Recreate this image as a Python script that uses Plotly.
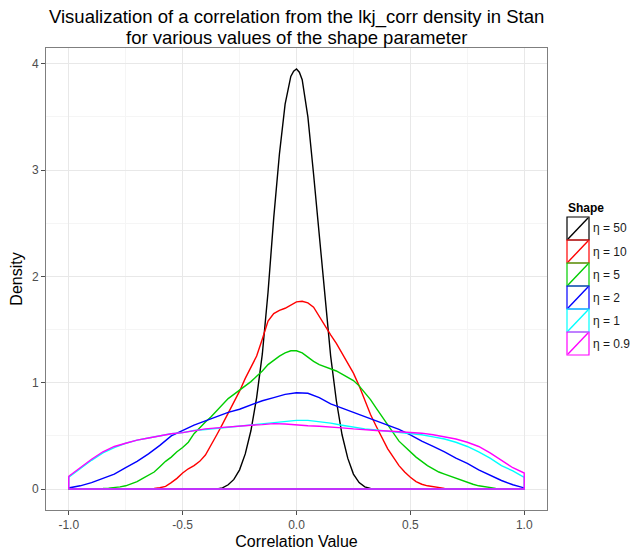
import plotly.graph_objects as go

# ---------------- data ----------------
labels = ["η = 50", "η = 10", "η = 5", "η = 2", "η = 1", "η = 0.9"]
colors = ["#000000", "#FF0000", "#00CD00", "#0000FF", "#00FFFF", "#FF00FF"]

x_eta50 = [-1.0, -0.4, -0.35, -0.325, -0.3, -0.275, -0.25, -0.225, -0.2, -0.175, -0.15,
           -0.125, -0.1, -0.075, -0.05, -0.025, -0.0125, 0.0, 0.0125, 0.025, 0.05, 0.075,
           0.1, 0.125, 0.15, 0.175, 0.2, 0.225, 0.25, 0.275, 0.3, 0.325, 0.35, 1.0]
y_eta50 = [0, 0, 0.0, 0.01, 0.04, 0.09, 0.18, 0.33, 0.55, 0.86, 1.27,
           1.85, 2.55, 3.15, 3.62, 3.88, 3.93, 3.95, 3.92, 3.85, 3.50, 2.96,
           2.37, 1.77, 1.25, 0.83, 0.51, 0.29, 0.14, 0.06, 0.02, 0.005, 0, 0]

x_eta10 = [-1.0, -0.65, -0.625, -0.6, -0.575, -0.55, -0.525, -0.5, -0.475, -0.45, -0.425,
           -0.4, -0.375, -0.35, -0.325, -0.3, -0.275, -0.25, -0.225, -0.2, -0.175, -0.15,
           -0.125, -0.1, -0.075, -0.05, -0.025, 0.0, 0.025, 0.05, 0.075, 0.1, 0.125, 0.15,
           0.175, 0.2, 0.225, 0.25, 0.275, 0.3, 0.325, 0.35, 0.375, 0.4, 0.425, 0.45, 0.475,
           0.5, 0.525, 0.55, 0.575, 0.6, 0.625, 0.65, 0.7, 1.0]
y_eta10 = [0, 0, 0.005, 0.012, 0.025, 0.06, 0.10, 0.15, 0.19, 0.22, 0.26,
           0.32, 0.41, 0.51, 0.61, 0.71, 0.81, 0.92, 1.04, 1.14, 1.25, 1.41,
           1.58, 1.65, 1.68, 1.70, 1.73, 1.76, 1.765, 1.75, 1.71, 1.62, 1.53, 1.45,
           1.37, 1.28, 1.19, 1.09, 0.97, 0.83, 0.70, 0.59, 0.48, 0.38, 0.30, 0.22, 0.16,
           0.11, 0.07, 0.045, 0.03, 0.02, 0.012, 0.006, 0, 0]

x_eta5 = [-1.0, -0.9, -0.875, -0.85, -0.825, -0.8, -0.775, -0.75, -0.725, -0.7, -0.675,
          -0.65, -0.625, -0.6, -0.575, -0.55, -0.525, -0.5, -0.475, -0.45, -0.425, -0.4,
          -0.375, -0.35, -0.325, -0.3, -0.275, -0.25, -0.225, -0.2, -0.175, -0.15, -0.125,
          -0.1, -0.075, -0.05, -0.025, 0.0, 0.025, 0.05, 0.075, 0.1, 0.125, 0.15, 0.175,
          0.2, 0.225, 0.25, 0.275, 0.3, 0.325, 0.35, 0.375, 0.4, 0.425, 0.45, 0.475, 0.5,
          0.525, 0.55, 0.575, 0.6, 0.625, 0.65, 0.675, 0.7, 0.725, 0.75, 0.775, 0.8, 0.825,
          0.85, 0.875, 0.9, 0.925, 1.0]
y_eta5 = [0, 0, 0.003, 0.005, 0.008, 0.012, 0.02, 0.03, 0.05, 0.07, 0.10,
          0.13, 0.16, 0.21, 0.26, 0.30, 0.35, 0.39, 0.44, 0.52, 0.58, 0.63,
          0.68, 0.74, 0.80, 0.85, 0.89, 0.93, 0.97, 1.01, 1.06, 1.11, 1.17,
          1.21, 1.25, 1.28, 1.30, 1.30, 1.28, 1.24, 1.20, 1.17, 1.15, 1.13, 1.11,
          1.08, 1.05, 1.02, 0.97, 0.91, 0.84, 0.76, 0.68, 0.60, 0.52, 0.45, 0.40, 0.35,
          0.30, 0.26, 0.22, 0.19, 0.16, 0.14, 0.12, 0.10, 0.08, 0.065, 0.045, 0.03, 0.02,
          0.012, 0.006, 0.003, 0, 0]

x_grid = [-1.0, -0.95, -0.9, -0.85, -0.8, -0.75, -0.7, -0.65, -0.6, -0.55, -0.5, -0.45,
          -0.4, -0.35, -0.3, -0.25, -0.2, -0.15, -0.1, -0.05, 0.0, 0.05, 0.1, 0.15, 0.2,
          0.25, 0.3, 0.35, 0.4, 0.45, 0.5, 0.55, 0.6, 0.65, 0.7, 0.75, 0.8, 0.85, 0.9,
          0.95, 1.0]
y_eta2 = [0.01, 0.03, 0.06, 0.10, 0.14, 0.20, 0.26, 0.33, 0.41, 0.50, 0.55, 0.60,
          0.64, 0.68, 0.72, 0.75, 0.79, 0.83, 0.86, 0.89, 0.905, 0.90, 0.86, 0.80, 0.76,
          0.72, 0.68, 0.64, 0.60, 0.56, 0.51, 0.45, 0.40, 0.35, 0.29, 0.24, 0.18, 0.13, 0.08,
          0.04, 0.01]
y_eta1 = [0.11, 0.19, 0.27, 0.34, 0.39, 0.43, 0.46, 0.48, 0.50, 0.52, 0.53, 0.55,
          0.56, 0.57, 0.58, 0.59, 0.60, 0.61, 0.62, 0.635, 0.645, 0.645, 0.635, 0.62, 0.60,
          0.58, 0.565, 0.555, 0.545, 0.535, 0.525, 0.51, 0.49, 0.47, 0.44, 0.40, 0.35, 0.29,
          0.22, 0.17, 0.11]
y_eta09 = [0.12, 0.20, 0.28, 0.35, 0.40, 0.43, 0.46, 0.48, 0.50, 0.52, 0.53, 0.55,
           0.565, 0.575, 0.585, 0.595, 0.60, 0.605, 0.615, 0.612, 0.60, 0.595, 0.59, 0.585,
           0.575, 0.565, 0.555, 0.55, 0.545, 0.54, 0.535, 0.525, 0.51, 0.49, 0.47, 0.44, 0.40,
           0.34, 0.27, 0.20, 0.15]

series_x = [x_eta50, x_eta10, x_eta5, x_grid, x_grid, x_grid]
series_y = [y_eta50, y_eta10, y_eta5, y_eta2, y_eta1, y_eta09]

x_tickvals = [-1.0, -0.5, 0.0, 0.5, 1.0]
x_ticktext = ["-1.0", "-0.5", "0.0", "0.5", "1.0"]
y_tickvals = [0, 1, 2, 3, 4]
y_ticktext = ["0", "1", "2", "3", "4"]

# ---------------- figure ----------------
FONT = "Liberation Sans, Arial, Helvetica, sans-serif"
W, H = 630, 552
ML, MR, MT, MB = 46, 83, 48, 42
PW, PH = W - ML - MR, H - MT - MB


def px_to_paper_x(px):
    return (px - ML) / PW


def px_to_paper_y(py):
    return (H - MB - py) / PH


fig = go.Figure()
for xs, ys, col, lab in zip(series_x, series_y, colors, labels):
    assert len(xs) == len(ys)
    # closed outline like a density polygon: baseline -> curve -> baseline
    px_ = [xs[0]] + list(xs) + [xs[-1], xs[0]]
    py_ = [0] + list(ys) + [0, 0]
    fig.add_trace(go.Scatter(x=px_, y=py_, mode="lines", name=lab,
                             line=dict(color=col, width=1.4),
                             showlegend=False, hoverinfo="skip"))

axis_common = dict(
    showline=True, mirror=True, linecolor="#7F7F7F", linewidth=1,
    ticks="outside", ticklen=4, tickcolor="#4D4D4D", tickwidth=1,
    showgrid=True, gridcolor="#E8E8E8", gridwidth=1, zeroline=False,
    automargin=False,
    tickfont=dict(family=FONT, size=12, color="#4D4D4D"),
)

fig.update_xaxes(
    range=[-1.1, 1.1], tickmode="array", tickvals=x_tickvals, ticktext=x_ticktext,
    title=dict(text="Correlation Value", font=dict(family=FONT, size=16, color="#000000"),
               standoff=4),
    minor=dict(tickmode="array", tickvals=[-0.75, -0.25, 0.25, 0.75],
               showgrid=True, gridcolor="#F5F5F5", ticks=""),
    **axis_common)
fig.update_yaxes(
    range=[-0.1975, 4.1475], tickmode="array", tickvals=y_tickvals, ticktext=y_ticktext,
    title=dict(text="Density", font=dict(family=FONT, size=16, color="#000000"),
               standoff=5),
    minor=dict(tickmode="array", tickvals=[0.5, 1.5, 2.5, 3.5],
               showgrid=True, gridcolor="#F5F5F5", ticks=""),
    **axis_common)

annotations = [
    dict(text="Visualization of a correlation from the lkj_corr density in Stan",
         x=0.5, y=px_to_paper_y(17), xref="paper", yref="paper",
         xanchor="center", yanchor="middle", showarrow=False,
         font=dict(family=FONT, size=18.5, color="#000000")),
    dict(text="for various values of the shape parameter",
         x=0.5, y=px_to_paper_y(37), xref="paper", yref="paper",
         xanchor="center", yanchor="middle", showarrow=False,
         font=dict(family=FONT, size=18.5, color="#000000")),
    dict(text="<b>Shape</b>", x=px_to_paper_x(566), y=px_to_paper_y(208),
         xref="paper", yref="paper", xanchor="left", yanchor="middle", showarrow=False,
         font=dict(family=FONT, size=12, color="#000000")),
]

shapes = []
key_left, key_right = 567, 589
key_top0, key_h = 217, 23
for i, (col, lab) in enumerate(zip(colors, labels)):
    top = key_top0 + i * key_h
    bot = top + key_h
    shapes.append(dict(type="rect", xref="paper", yref="paper",
                       x0=px_to_paper_x(key_left), x1=px_to_paper_x(key_right),
                       y0=px_to_paper_y(bot), y1=px_to_paper_y(top),
                       line=dict(color=col, width=1.2), fillcolor="rgba(255,255,255,0)",
                       layer="above"))
    shapes.append(dict(type="line", xref="paper", yref="paper",
                       x0=px_to_paper_x(key_left + 1), x1=px_to_paper_x(key_right - 1),
                       y0=px_to_paper_y(bot - 1), y1=px_to_paper_y(top + 1),
                       line=dict(color=col, width=1.4), layer="above"))
    annotations.append(dict(text=lab, x=px_to_paper_x(591), y=px_to_paper_y(top + key_h / 2),
                            xref="paper", yref="paper", xanchor="left", yanchor="middle",
                            showarrow=False,
                            font=dict(family=FONT, size=12, color="#1A1A1A")))

fig.update_layout(
    width=W, height=H, autosize=False,
    margin=dict(l=ML, r=MR, t=MT, b=MB, pad=0),
    paper_bgcolor="white", plot_bgcolor="white",
    showlegend=False,
    annotations=annotations, shapes=shapes,
)

fig.write_html("out.html", config={"displayModeBar": False})
